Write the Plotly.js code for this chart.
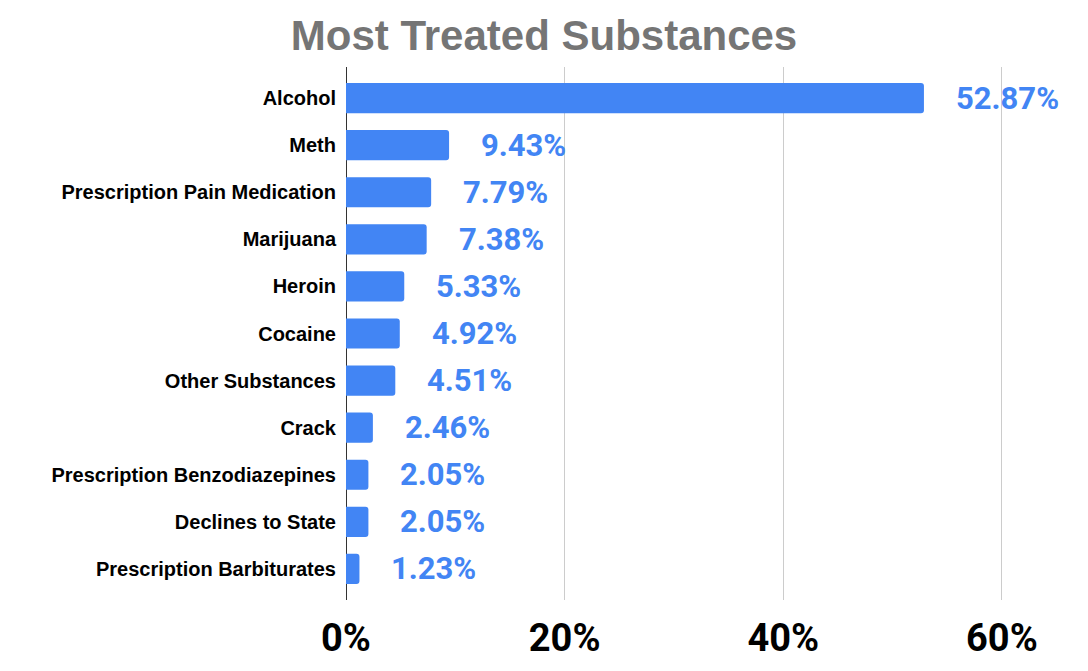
<!DOCTYPE html>
<html>
<head>
<meta charset="utf-8">
<script src="https://cdn.plot.ly/plotly-3.0.1.min.js"></script>
<style>
  html, body { margin: 0; padding: 0; background: #fff; }
  #plot { width: 1088px; height: 671px; }
</style>
</head>
<body>
<div id="plot"></div>
<script>
// substances, top to bottom as shown
var substances = [
    "Alcohol",
    "Meth",
    "Prescription Pain Medication",
    "Marijuana",
    "Heroin",
    "Cocaine",
    "Other Substances",
    "Crack",
    "Prescription Benzodiazepines",
    "Declines to State",
    "Prescription Barbiturates"
];
var shares = [52.87, 9.43, 7.79, 7.38, 5.33, 4.92, 4.51, 2.46, 2.05, 2.05, 1.23];
var xTicks = [0, 20, 40, 60];
var xTickLabels = ["0%", "20%", "40%", "60%"];

var blue = "#4285F4";

var trace = {
    type: "bar",
    orientation: "h",
    y: substances,
    x: shares,
    marker: { color: blue, cornerradius: 3 },
    hoverinfo: "none"
};

// value labels sit a little right of each bar end
var labels = shares.map(function (v, i) {
    return {
        x: v,
        y: substances[i],
        text: v.toFixed(2) + "%",
        showarrow: false,
        xanchor: "left",
        xshift: 30,
        font: { family: "Roboto", size: 31, color: blue, weight: "bold" }
    };
});

var layout = {
    width: 1088,
    height: 671,
    margin: { l: 346, r: 26, t: 67, b: 71 },
    paper_bgcolor: "#fff",
    plot_bgcolor: "#fff",
    showlegend: false,
    bargap: 0.36,
    title: {
        text: "<b>Most Treated Substances</b>",
        font: { family: "Liberation Sans, Arial", size: 42, color: "#757575" },
        x: 0.5,
        xanchor: "center",
        y: 0.947,
        yanchor: "middle"
    },
    xaxis: {
        range: [0, 65.5],
        tickvals: xTicks,
        ticktext: xTickLabels,
        showgrid: true,
        gridcolor: "#cccccc",
        zeroline: true,
        zerolinecolor: "#333333",
        zerolinewidth: 1,
        ticks: "",
        ticklabelstandoff: 12,
        tickfont: { family: "Roboto", size: 38, color: "#000", weight: "bold" },
        fixedrange: true
    },
    yaxis: {
        autorange: false,
        range: [10.66, -0.66],
        type: "category",
        categoryorder: "array",
        categoryarray: substances,
        ticks: "",
        ticklabelstandoff: 9,
        tickfont: { family: "Liberation Sans, Arial", size: 20, color: "#000", weight: "bold" },
        fixedrange: true
    },
    annotations: labels
};

Plotly.newPlot("plot", [trace], layout, { displayModeBar: false, staticPlot: true });
</script>
</body>
</html>
